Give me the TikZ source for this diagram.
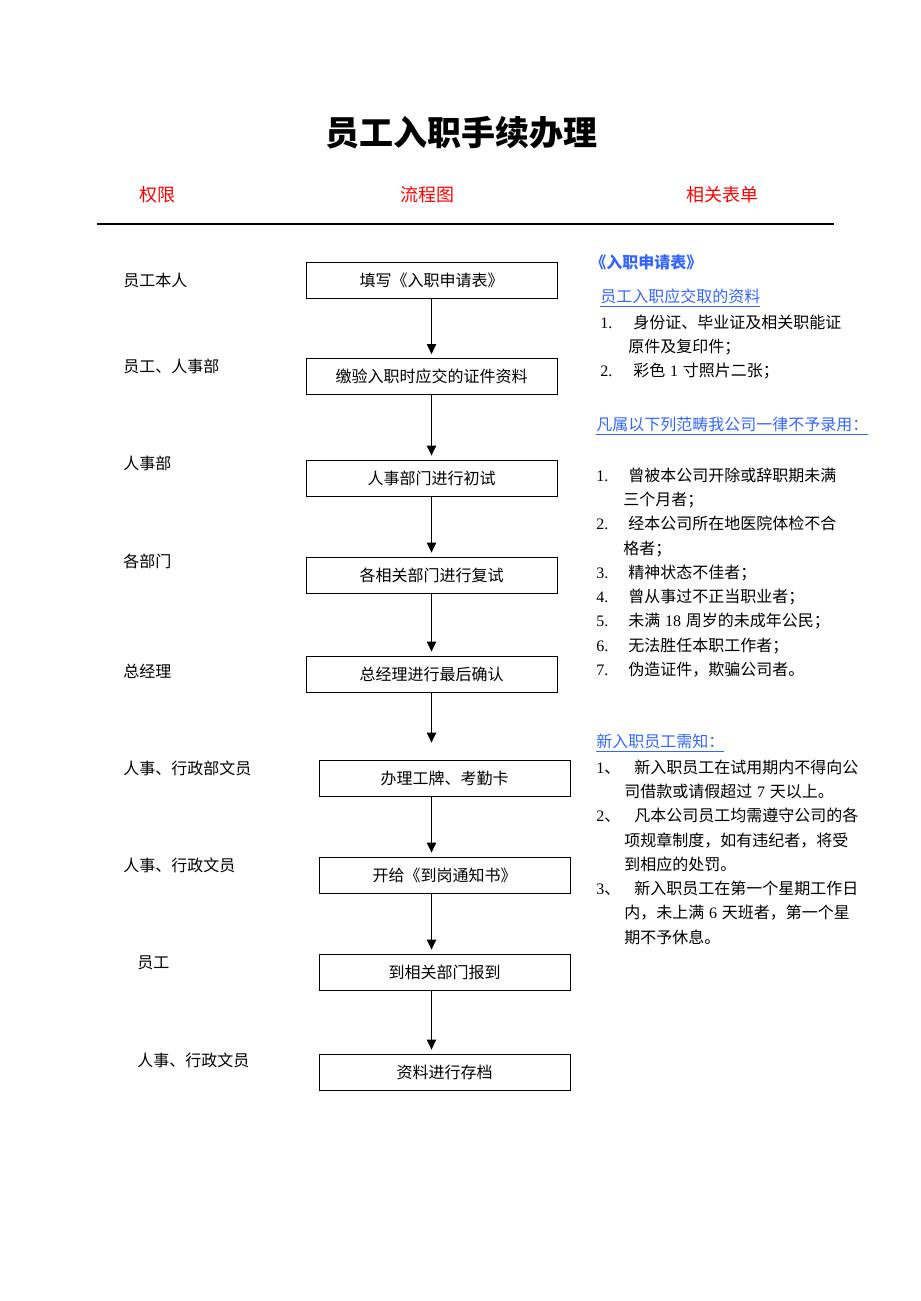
\documentclass[tikz,border=0pt]{standalone}
\usepackage{fontspec}
\setmainfont{Liberation Serif}
\newfontfamily\cjk{Noto Sans CJK SC}
\usetikzlibrary{arrows.meta}
\definecolor{formblue}{RGB}{51,102,255}
\newcommand\lat[1]{\hspace{0.3em}{\rmfamily #1}\hspace{0.3em}}
\newcommand\nr[1]{{\rmfamily #1}}
\tikzset{
  stepbox/.style={draw, line width=0.6pt, minimum width=188.25pt,
    minimum height=27pt, inner sep=0pt, font=\cjk\fontsize{12}{14}\selectfont},
  role/.style={anchor=west, inner sep=0pt, font=\cjk\fontsize{12}{14}\selectfont},
  flow/.style={-{Triangle[width=7pt,length=7.5pt]}, line width=0.8pt, shorten >=3pt},
  notes/.style={anchor=north west, inner sep=0pt, align=left,
    font=\cjk\fontsize{12}{18.2}\selectfont},
  head/.style={inner sep=0pt, text=red, font=\cjk\fontsize{13.5}{16}\selectfont},
  link/.style={anchor=west, inner sep=0pt, text=formblue,
    font=\cjk\fontsize{12}{14}\selectfont},
}
\begin{document}
\begin{tikzpicture}[x=0.75pt, y=-0.75pt]
\useasboundingbox (0,0) rectangle (920,1301);
% title and column heads
\node[font=\cjk\bfseries\fontsize{25.5}{30}\selectfont] (title) at (461,133) {员工入职手续办理};
\node[head] (hrole) at (157,195) {权限};
\node[head] (hflow) at (427,195) {流程图};
\node[head] (hform) at (722,195) {相关表单};
\draw[line width=1.1pt] (97,224) -- (834,224);
% flow boxes
\node[stepbox] (b1) at (431.5,280) {填写《入职申请表》};
\node[stepbox] (b2) at (431.5,376.5) {缴验入职时应交的证件资料};
\node[stepbox] (b3) at (431.5,478) {人事部门进行初试};
\node[stepbox] (b4) at (431.5,575) {各相关部门进行复试};
\node[stepbox] (b5) at (431.5,674) {总经理进行最后确认};
\node[stepbox] (b6) at (444.5,778) {办理工牌、考勤卡};
\node[stepbox] (b7) at (444.5,875) {开给《到岗通知书》};
\node[stepbox] (b8) at (444.5,972) {到相关部门报到};
\node[stepbox] (b9) at (444.5,1072) {资料进行存档};
\draw[flow] (b1) -- (b2);
\draw[flow] (b2) -- (b3);
\draw[flow] (b3) -- (b4);
\draw[flow] (b4) -- (b5);
\draw[flow, shorten >=12.75pt] (b5.south) -- (b5.south |- b6.north);
\draw[flow] (b6.south -| b1) -- (b7.north -| b1);
\draw[flow] (b7.south -| b1) -- (b8.north -| b1);
\draw[flow] (b8.south -| b1) -- (b9.north -| b1);
% who does it
\node[role] (r1) at (123,280) {员工本人};
\node[role] (r2) at (123,366) {员工、人事部};
\node[role] (r3) at (123,463) {人事部};
\node[role] (r4) at (123,561) {各部门};
\node[role] (r5) at (123,671) {总经理};
\node[role] (r6) at (123,768) {人事、行政部文员};
\node[role] (r7) at (123,865) {人事、行政文员};
\node[role] (r8) at (137,963) {员工};
\node[role] (r9) at (137,1060) {人事、行政文员};
% forms and notes
\node[link, font=\cjk\bfseries\fontsize{12}{14}\selectfont] (fapply) at (590,262) {《入职申请表》};
\node[link] (freq) at (600,298) {\underline{员工入职应交取的资料}};
\node[notes] (reqlist) at (600,314.5) {%
\makebox[24.75pt][l]{\nr{1.}}身份证、毕业证及相关职能证\\
\hspace*{21pt}原件及复印件；\\
\makebox[24.75pt][l]{\nr{2.}}彩色\lat{1}寸照片二张；};
\node[link] (freject) at (596,426) {\underline{凡属以下列范畴我公司一律不予录用：}};
\node[notes] (rejlist) at (596,467.5) {%
\makebox[24pt][l]{\nr{1.}}曾被本公司开除或辞职期未满\\
\hspace*{20.25pt}三个月者；\\
\makebox[24pt][l]{\nr{2.}}经本公司所在地医院体检不合\\
\hspace*{20.25pt}格者；\\
\makebox[24pt][l]{\nr{3.}}精神状态不佳者；\\
\makebox[24pt][l]{\nr{4.}}曾从事过不正当职业者；\\
\makebox[24pt][l]{\nr{5.}}未满\lat{18}周岁的未成年公民；\\
\makebox[24pt][l]{\nr{6.}}无法胜任本职工作者；\\
\makebox[24pt][l]{\nr{7.}}伪造证件，欺骗公司者。};
\node[link] (fnote) at (596,743) {\underline{新入职员工需知：}};
\node[notes] (notelist) at (596,759.5) {%
\makebox[28.5pt][l]{\nr{1}、}新入职员工在试用期内不得向公\\
\hspace*{21pt}司借款或请假超过\lat{7}天以上。\\
\makebox[28.5pt][l]{\nr{2}、}凡本公司员工均需遵守公司的各\\
\hspace*{21pt}项规章制度，如有违纪者，将受\\
\hspace*{21pt}到相应的处罚。\\
\makebox[28.5pt][l]{\nr{3}、}新入职员工在第一个星期工作日\\
\hspace*{21pt}内，未上满\lat{6}天班者，第一个星\\
\hspace*{21pt}期不予休息。};
\end{tikzpicture}
\end{document}
